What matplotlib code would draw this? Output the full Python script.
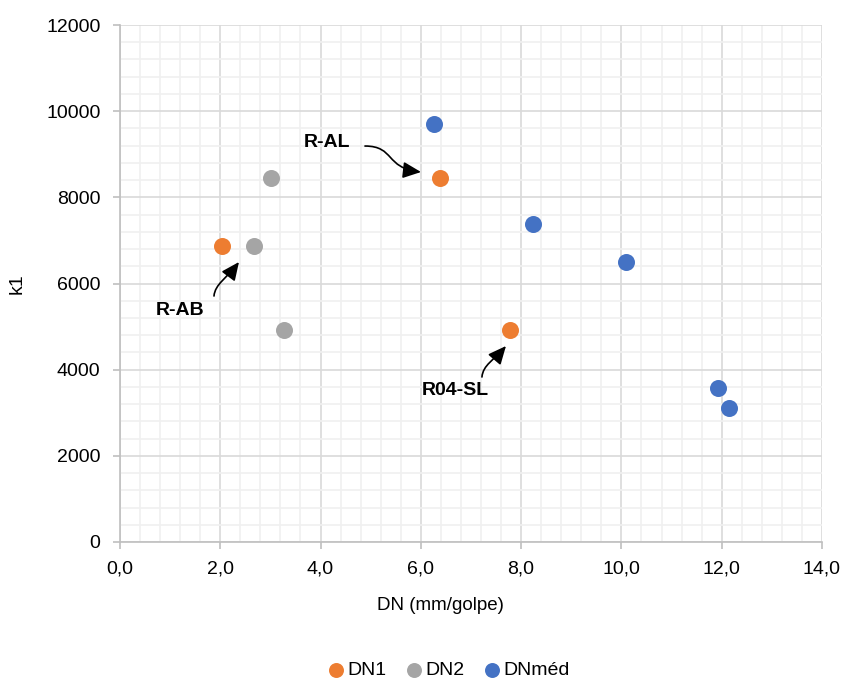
import matplotlib
matplotlib.use('Agg')
import matplotlib.pyplot as plt
from matplotlib.patches import FancyArrowPatch
from matplotlib.path import Path
from matplotlib.ticker import MultipleLocator, FuncFormatter

plt.rcParams['font.family'] = ['Liberation Sans', 'DejaVu Sans']

# data
dn1_x = [2.03, 6.38, 7.78]
dn1_y = [6870, 8460, 4910]
dn2_x = [2.67, 3.01, 3.27]
dn2_y = [6870, 8460, 4910]
dnmed_x = [6.26, 8.24, 10.09, 11.93, 12.15]
dnmed_y = [9710, 7390, 6510, 3570, 3110]

# label, text position, S-shaped arrow (start, control1, control2, tip)
annotations = [
    ('R-AB', (1.20, 5385), [(1.875, 5710), (1.895, 5988), (2.134, 6127), (2.373, 6499)]),
    ('R-AL', (4.13, 9284), [(4.886, 9191), (5.484, 9191), (5.285, 8681), (6.003, 8588)]),
    ('R04-SL', (6.68, 3528), [(7.219, 3830), (7.239, 4108), (7.459, 4224), (7.698, 4549)]),
]

fig = plt.figure(figsize=(8.42, 6.82), dpi=100)
ax = fig.add_axes([0.1425, 0.2053, 0.8337, 0.758])

ax.scatter(dn1_x, dn1_y, s=150, color='#ed7d31', label='DN1', zorder=3, linewidths=0)
ax.scatter(dn2_x, dn2_y, s=150, color='#a5a5a5', label='DN2', zorder=3, linewidths=0)
ax.scatter(dnmed_x, dnmed_y, s=150, color='#4472c4', label='DNméd', zorder=3, linewidths=0)

for label, text_pos, curve in annotations:
    ax.text(*text_pos, label, fontsize=14, fontweight='bold', ha='center', va='center')
    path = Path(curve, [Path.MOVETO, Path.CURVE4, Path.CURVE4, Path.CURVE4])
    arrow = FancyArrowPatch(path=path, arrowstyle='-|>,head_length=0.55,head_width=0.25',
                            mutation_scale=20, color='black', lw=1.2, zorder=4)
    ax.add_patch(arrow)

ax.set_xlim(0, 14)
ax.set_ylim(0, 12000)
ax.xaxis.set_major_locator(MultipleLocator(2))
ax.xaxis.set_minor_locator(MultipleLocator(0.4))
ax.yaxis.set_major_locator(MultipleLocator(2000))
ax.yaxis.set_minor_locator(MultipleLocator(400))
ax.xaxis.set_major_formatter(FuncFormatter(lambda v, _: f'{v:.1f}'.replace('.', ',')))

ax.grid(True, which='major', color='#d9d9d9', linewidth=1.2)
ax.grid(True, which='minor', color='#f0f0f0', linewidth=1.2)
ax.set_axisbelow(True)

for side in ['top', 'right']:
    ax.spines[side].set_visible(False)
for side in ['left', 'bottom']:
    ax.spines[side].set_color('#bfbfbf')
    ax.spines[side].set_linewidth(1.2)

ax.tick_params(axis='both', which='major', labelsize=14, color='#bfbfbf', width=1.2)
ax.tick_params(axis='x', which='major', length=5, pad=8)
ax.tick_params(axis='y', which='major', length=5, pad=9)
ax.tick_params(which='minor', length=0)

ax.set_xlabel('DN (mm/golpe)', fontsize=13.5)
ax.xaxis.set_label_coords(0.456, -0.106)
ax.set_ylabel('k1', fontsize=14)
ax.yaxis.set_label_coords(-0.135, 0.5)

fig.legend(loc='center', bbox_to_anchor=(0.531, 0.017), ncol=3, frameon=False,
           fontsize=14, handletextpad=0.0, columnspacing=0.8, markerscale=0.88,
           handlelength=1.2)

fig.savefig('out.png', dpi=100)
